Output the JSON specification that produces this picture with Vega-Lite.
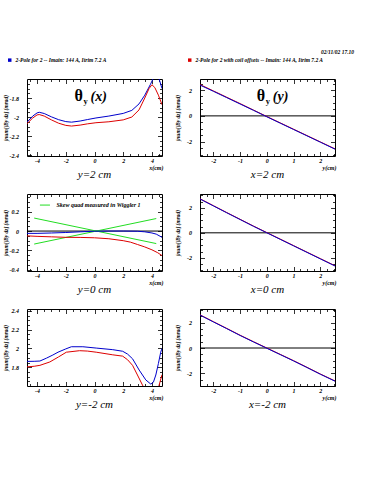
{
"$schema": "https://vega.github.io/schema/vega-lite/v6.json",
"padding": {"left": 2, "top": 49, "right": 0, "bottom": 0},
"background": "white",
"title": {"text": "02/11/02  17.10", "anchor": "start", "frame": "group", "dx": 294, "offset": 2, "font": "Liberation Serif", "fontSize": 5.5, "fontStyle": "italic", "fontWeight": "bold", "color": "black"},
"datasets": {
"p1": [
{"s":"A","x":-4.7,"v":-2.054},{"s":"A","x":-4.3,"v":-1.99},{"s":"A","x":-4.0,"v":-1.957},{"s":"A","x":-3.85,"v":-1.95},{"s":"A","x":-3.5,"v":-1.963},{"s":"A","x":-3.0,"v":-1.998},{"s":"A","x":-2.5,"v":-2.028},{"s":"A","x":-2.0,"v":-2.048},{"s":"A","x":-1.6,"v":-2.054},{"s":"A","x":-1.0,"v":-2.042},{"s":"A","x":-0.5,"v":-2.027},{"s":"A","x":0.1,"v":-2.01},{"s":"A","x":1.0,"v":-1.99},{"s":"A","x":2.0,"v":-1.962},{"s":"A","x":2.6,"v":-1.93},{"s":"A","x":3.1,"v":-1.862},{"s":"A","x":3.5,"v":-1.77},{"s":"A","x":3.9,"v":-1.655},{"s":"A","x":4.1,"v":-1.59},{"s":"A","x":4.3,"v":-1.56},{"s":"A","x":4.5,"v":-1.6},{"s":"A","x":4.7,"v":-1.7},
{"s":"B","x":-4.7,"v":-2.07},{"s":"B","x":-4.3,"v":-2.01},{"s":"B","x":-4.0,"v":-1.978},{"s":"B","x":-3.85,"v":-1.974},{"s":"B","x":-3.5,"v":-1.99},{"s":"B","x":-3.0,"v":-2.03},{"s":"B","x":-2.5,"v":-2.065},{"s":"B","x":-2.0,"v":-2.088},{"s":"B","x":-1.6,"v":-2.095},{"s":"B","x":-1.0,"v":-2.085},{"s":"B","x":-0.5,"v":-2.072},{"s":"B","x":0.1,"v":-2.06},{"s":"B","x":1.0,"v":-2.05},{"s":"B","x":2.0,"v":-2.03},{"s":"B","x":2.6,"v":-2.0},{"s":"B","x":3.1,"v":-1.925},{"s":"B","x":3.5,"v":-1.8},{"s":"B","x":3.8,"v":-1.7},{"s":"B","x":4.0,"v":-1.66},{"s":"B","x":4.2,"v":-1.69},{"s":"B","x":4.45,"v":-1.77},{"s":"B","x":4.7,"v":-1.87}
],
"p2": [
{"s":"B","x":-2.5,"v":2.42},{"s":"B","x":-2,"v":1.93},{"s":"B","x":-1.5,"v":1.44},{"s":"B","x":-1,"v":0.95},{"s":"B","x":-0.5,"v":0.45},{"s":"B","x":0,"v":-0.05},{"s":"B","x":0.5,"v":-0.54},{"s":"B","x":1,"v":-1.03},{"s":"B","x":1.5,"v":-1.52},{"s":"B","x":2,"v":-2.01},{"s":"B","x":2.55,"v":-2.55},
{"s":"A","x":-2.5,"v":2.38},{"s":"A","x":-2,"v":1.9},{"s":"A","x":-1.5,"v":1.41},{"s":"A","x":-1,"v":0.92},{"s":"A","x":-0.5,"v":0.43},{"s":"A","x":0,"v":-0.07},{"s":"A","x":0.5,"v":-0.56},{"s":"A","x":1,"v":-1.05},{"s":"A","x":1.5,"v":-1.54},{"s":"A","x":2,"v":-2.03},{"s":"A","x":2.55,"v":-2.57}
],
"p3": [
{"s":"A","x":-4.7,"v":-0.024},{"s":"A","x":-4,"v":-0.024},{"s":"A","x":-3,"v":-0.02},{"s":"A","x":-2,"v":-0.015},{"s":"A","x":-1,"v":-0.008},{"s":"A","x":0,"v":-0.002},{"s":"A","x":1,"v":0},{"s":"A","x":2,"v":0},{"s":"A","x":3,"v":-0.002},{"s":"A","x":3.5,"v":-0.008},{"s":"A","x":4,"v":-0.02},{"s":"A","x":4.3,"v":-0.032},{"s":"A","x":4.7,"v":-0.065},
{"s":"B","x":-4.7,"v":-0.05},{"s":"B","x":-4,"v":-0.055},{"s":"B","x":-3,"v":-0.06},{"s":"B","x":-2,"v":-0.065},{"s":"B","x":-1,"v":-0.066},{"s":"B","x":0,"v":-0.07},{"s":"B","x":1,"v":-0.08},{"s":"B","x":2,"v":-0.1},{"s":"B","x":2.5,"v":-0.115},{"s":"B","x":3,"v":-0.14},{"s":"B","x":3.5,"v":-0.165},{"s":"B","x":4,"v":-0.195},{"s":"B","x":4.4,"v":-0.225},{"s":"B","x":4.7,"v":-0.255}
],
"g3": [
{"k":1,"x":-4.2,"v":0.135},{"k":1,"x":4.3,"v":-0.13},{"k":2,"x":-4.2,"v":-0.135},{"k":2,"x":4.3,"v":0.13}
],
"p4": [
{"s":"B","x":-2.5,"v":2.72},{"s":"B","x":-2,"v":2.17},{"s":"B","x":-1.5,"v":1.62},{"s":"B","x":-1,"v":1.08},{"s":"B","x":-0.5,"v":0.54},{"s":"B","x":0,"v":0.02},{"s":"B","x":0.5,"v":-0.5},{"s":"B","x":1,"v":-1.02},{"s":"B","x":1.5,"v":-1.54},{"s":"B","x":2,"v":-2.06},{"s":"B","x":2.55,"v":-2.63},
{"s":"A","x":-2.5,"v":2.7},{"s":"A","x":-2,"v":2.15},{"s":"A","x":-1.5,"v":1.6},{"s":"A","x":-1,"v":1.06},{"s":"A","x":-0.5,"v":0.52},{"s":"A","x":0,"v":0},{"s":"A","x":0.5,"v":-0.52},{"s":"A","x":1,"v":-1.04},{"s":"A","x":1.5,"v":-1.56},{"s":"A","x":2,"v":-2.08},{"s":"A","x":2.55,"v":-2.65}
],
"p5": [
{"s":"A","x":-4.7,"v":1.862},{"s":"A","x":-4.2,"v":1.863},{"s":"A","x":-3.8,"v":1.866},{"s":"A","x":-3.34,"v":1.897},{"s":"A","x":-2.9,"v":1.93},{"s":"A","x":-2.54,"v":1.96},{"s":"A","x":-2.0,"v":1.995},{"s":"A","x":-1.61,"v":2.018},{"s":"A","x":-0.81,"v":2.018},{"s":"A","x":0.12,"v":2.004},{"s":"A","x":1.27,"v":1.987},{"s":"A","x":1.96,"v":1.97},{"s":"A","x":2.3,"v":1.94},{"s":"A","x":2.65,"v":1.89},{"s":"A","x":3.11,"v":1.77},{"s":"A","x":3.57,"v":1.665},{"s":"A","x":3.92,"v":1.62},{"s":"A","x":4.1,"v":1.64},{"s":"A","x":4.27,"v":1.717},{"s":"A","x":4.45,"v":1.84},{"s":"A","x":4.61,"v":1.96},{"s":"A","x":4.7,"v":2.0},
{"s":"B","x":-4.7,"v":1.804},{"s":"B","x":-4.2,"v":1.81},{"s":"B","x":-3.8,"v":1.82},{"s":"B","x":-3.11,"v":1.856},{"s":"B","x":-2.5,"v":1.91},{"s":"B","x":-1.96,"v":1.96},{"s":"B","x":-1.04,"v":1.976},{"s":"B","x":-0.5,"v":1.972},{"s":"B","x":0.12,"v":1.96},{"s":"B","x":1.27,"v":1.932},{"s":"B","x":1.96,"v":1.918},{"s":"B","x":2.3,"v":1.88},{"s":"B","x":2.65,"v":1.82},{"s":"B","x":2.99,"v":1.717},{"s":"B","x":3.34,"v":1.61},{"s":"B","x":3.6,"v":1.54},{"s":"B","x":4.0,"v":1.47},{"s":"B","x":4.3,"v":1.5},{"s":"B","x":4.5,"v":1.61},{"s":"B","x":4.7,"v":1.72}
],
"p6": [
{"s":"B","x":-2.5,"v":2.62},{"s":"B","x":-2,"v":2.08},{"s":"B","x":-1.5,"v":1.55},{"s":"B","x":-1,"v":1.01},{"s":"B","x":-0.5,"v":0.5},{"s":"B","x":0,"v":0},{"s":"B","x":0.5,"v":-0.5},{"s":"B","x":1,"v":-1.0},{"s":"B","x":1.5,"v":-1.52},{"s":"B","x":2,"v":-2.05},{"s":"B","x":2.55,"v":-2.6},
{"s":"A","x":-2.5,"v":2.6},{"s":"A","x":-2,"v":2.06},{"s":"A","x":-1.5,"v":1.53},{"s":"A","x":-1,"v":0.99},{"s":"A","x":-0.5,"v":0.48},{"s":"A","x":0,"v":-0.02},{"s":"A","x":0.5,"v":-0.52},{"s":"A","x":1,"v":-1.02},{"s":"A","x":1.5,"v":-1.54},{"s":"A","x":2,"v":-2.07},{"s":"A","x":2.55,"v":-2.62}
]
},
"columns": 2,
"spacing": {"row": 38, "column": 38},
"bounds": "flush",
"concat": [
{"width": 135, "height": 77, "data": {"name": "p1"},
 "title": {"text": "y=2 cm", "orient": "bottom", "anchor": "middle", "frame": "group", "offset": -1, "font": "Liberation Serif", "fontSize": 11, "fontStyle": "italic", "fontWeight": "normal", "color": "black"},
 "resolve": {"axis": {"x": "independent", "y": "independent"}},
 "layer": [
  {"mark": {"type": "line", "clip": true, "strokeWidth": 1},
   "encoding": {
    "x": {"field": "x", "type": "quantitative", "scale": {"domain": [-4.7, 4.7], "nice": false, "zero": false},
      "axis": {"orient": "bottom", "values": [-4.5,-4,-3.5,-3,-2.5,-2,-1.5,-1,-0.5,0,0.5,1,1.5,2,2.5,3,3.5,4,4.5], "tickSize": {"condition": {"test": "datum.value % 2 == 0", "value": -4.5}, "value": -2.5}, "labelExpr": "datum.value % 2 == 0 ? (datum.value < 0 ? '-' : '') + format(abs(datum.value), '~g') : ''", "labelPadding": 5.5, "title": "x(cm)", "titleX": 136, "titleY": 8, "titleAlign": "right", "titleBaseline": "top", "titleFontSize": 6}},
    "y": {"field": "v", "type": "quantitative", "scale": {"domain": [-2.41, -1.6], "nice": false, "zero": false},
      "axis": {"orient": "left", "values": [-2.4,-2.35,-2.3,-2.25,-2.2,-2.15,-2.1,-2.05,-2,-1.95,-1.9,-1.85,-1.8,-1.75,-1.7,-1.65], "tickSize": {"condition": {"test": "abs(datum.value*5 - round(datum.value*5)) < 0.001", "value": -4.5}, "value": -2.5}, "labelExpr": "abs(datum.value*5 - round(datum.value*5)) < 0.001 ? (datum.value < 0 ? '-' : '') + format(abs(datum.value), '.1~f') : ''", "labelPadding": 13, "title": "∫num[∫By dz] (mrad)", "titleX": -22, "titleY": 38.5, "titleAngle": -90, "titleBaseline": "middle", "titleAlign": "center"}},
    "color": {"field": "s", "type": "nominal", "title": null, "scale": {"domain": ["A", "B"], "range": ["#0000cc", "#dd0000"]},
      "legend": {"labelExpr": "datum.value == 'A' ? '2-Pole for 2  --  Imain: 144 A, Itrim 7.2 A' : '2-Pole for 2 with coil offsets  --  Imain: 144 A, Itrim 7.2 A'", "encode": {"symbols": {"update": {"fill": {"scale": "color", "field": "value"}, "stroke": {"value": "transparent"}}}}}}
   }},
  {"mark": {"type": "point", "opacity": 0, "clip": true},
   "encoding": {
    "x": {"field": "x", "type": "quantitative", "axis": {"orient": "top", "values": [-4.5,-4,-3.5,-3,-2.5,-2,-1.5,-1,-0.5,0,0.5,1,1.5,2,2.5,3,3.5,4,4.5], "tickSize": {"condition": {"test": "datum.value % 2 == 0", "value": -4.5}, "value": -2.5}, "labels": false, "title": null}},
    "y": {"field": "v", "type": "quantitative", "axis": {"orient": "right", "values": [-2.4,-2.35,-2.3,-2.25,-2.2,-2.15,-2.1,-2.05,-2,-1.95,-1.9,-1.85,-1.8,-1.75,-1.7,-1.65], "tickSize": {"condition": {"test": "abs(datum.value*5 - round(datum.value*5)) < 0.001", "value": -4.5}, "value": -2.5}, "labels": false, "title": null}}
   }},
  {"data": {"values": [{}]}, "mark": {"type": "text", "text": "θ", "font": "Liberation Serif", "fontSize": 16, "fontWeight": "bold", "align": "left", "baseline": "alphabetic", "dx": -20},
   "encoding": {"x": {"datum": 0, "type": "quantitative", "axis": null}, "y": {"datum": -1.83, "type": "quantitative", "axis": null}}},
  {"data": {"values": [{}]}, "mark": {"type": "text", "text": "y", "font": "Liberation Serif", "fontSize": 8.5, "fontWeight": "bold", "align": "left", "baseline": "alphabetic", "dx": -11, "dy": 3},
   "encoding": {"x": {"datum": 0, "type": "quantitative", "axis": null}, "y": {"datum": -1.83, "type": "quantitative", "axis": null}}},
  {"data": {"values": [{}]}, "mark": {"type": "text", "text": "(x)", "font": "Liberation Serif", "fontSize": 14, "fontStyle": "italic", "fontWeight": "bold", "align": "left", "baseline": "alphabetic", "dx": -4},
   "encoding": {"x": {"datum": 0, "type": "quantitative", "axis": null}, "y": {"datum": -1.83, "type": "quantitative", "axis": null}}}
 ]},
{"width": 135, "height": 77, "data": {"name": "p2"},
 "title": {"text": "x=2 cm", "orient": "bottom", "anchor": "middle", "frame": "group", "offset": -1, "font": "Liberation Serif", "fontSize": 11, "fontStyle": "italic", "fontWeight": "normal", "color": "black"},
 "resolve": {"axis": {"x": "independent", "y": "independent"}},
 "layer": [
  {"data": {"values": [{}]}, "mark": {"type": "rule", "color": "black", "strokeWidth": 1},
   "encoding": {"y": {"datum": 0, "type": "quantitative", "axis": null}}},
  {"mark": {"type": "line", "clip": true, "strokeWidth": 1},
   "encoding": {
    "x": {"field": "x", "type": "quantitative", "scale": {"domain": [-2.5, 2.55], "nice": false, "zero": false},
      "axis": {"orient": "bottom", "values": [-2.5,-2.25,-2,-1.75,-1.5,-1.25,-1,-0.75,-0.5,-0.25,0,0.25,0.5,0.75,1,1.25,1.5,1.75,2,2.25,2.5], "tickSize": {"condition": {"test": "datum.value % 1 == 0", "value": -4.5}, "value": -2.5}, "labelExpr": "datum.value % 1 == 0 ? (datum.value < 0 ? '-' : '') + format(abs(datum.value), '~g') : ''", "labelPadding": 5.5, "title": "y(cm)", "titleX": 136, "titleY": 8, "titleAlign": "right", "titleBaseline": "top", "titleFontSize": 6}},
    "y": {"field": "v", "type": "quantitative", "scale": {"domain": [-3.1, 2.85], "nice": false, "zero": false},
      "axis": {"orient": "left", "values": [-3,-2.5,-2,-1.5,-1,-0.5,0,0.5,1,1.5,2,2.5], "tickSize": {"condition": {"test": "datum.value % 2 == 0", "value": -4.5}, "value": -2.5}, "labelExpr": "datum.value % 2 == 0 ? (datum.value < 0 ? '-' : '') + format(abs(datum.value), '~g') : ''", "labelPadding": 13, "title": "∫num[∫By dz] (mrad)", "titleX": -23, "titleY": 38.5, "titleAngle": -90, "titleBaseline": "middle", "titleAlign": "center"}},
    "color": {"field": "s", "type": "nominal", "title": null, "scale": {"domain": ["A", "B"], "range": ["#0000cc", "#dd0000"]}}
   }},
  {"mark": {"type": "point", "opacity": 0, "clip": true},
   "encoding": {
    "x": {"field": "x", "type": "quantitative", "axis": {"orient": "top", "values": [-2.5,-2.25,-2,-1.75,-1.5,-1.25,-1,-0.75,-0.5,-0.25,0,0.25,0.5,0.75,1,1.25,1.5,1.75,2,2.25,2.5], "tickSize": {"condition": {"test": "datum.value % 1 == 0", "value": -4.5}, "value": -2.5}, "labels": false, "title": null}},
    "y": {"field": "v", "type": "quantitative", "axis": {"orient": "right", "values": [-3,-2.5,-2,-1.5,-1,-0.5,0,0.5,1,1.5,2,2.5], "tickSize": {"condition": {"test": "datum.value % 2 == 0", "value": -4.5}, "value": -2.5}, "labels": false, "title": null}}
   }},
  {"data": {"values": [{}]}, "mark": {"type": "text", "text": "θ", "font": "Liberation Serif", "fontSize": 16, "fontWeight": "bold", "align": "left", "baseline": "alphabetic", "dx": -10},
   "encoding": {"x": {"datum": 0, "type": "quantitative", "axis": null}, "y": {"datum": 1.15, "type": "quantitative", "axis": null}}},
  {"data": {"values": [{}]}, "mark": {"type": "text", "text": "y", "font": "Liberation Serif", "fontSize": 8.5, "fontWeight": "bold", "align": "left", "baseline": "alphabetic", "dx": -1, "dy": 3},
   "encoding": {"x": {"datum": 0, "type": "quantitative", "axis": null}, "y": {"datum": 1.15, "type": "quantitative", "axis": null}}},
  {"data": {"values": [{}]}, "mark": {"type": "text", "text": "(y)", "font": "Liberation Serif", "fontSize": 14, "fontStyle": "italic", "fontWeight": "bold", "align": "left", "baseline": "alphabetic", "dx": 6},
   "encoding": {"x": {"datum": 0, "type": "quantitative", "axis": null}, "y": {"datum": 1.15, "type": "quantitative", "axis": null}}}
 ]},
{"width": 135, "height": 77, "data": {"name": "p3"},
 "title": {"text": "y=0 cm", "orient": "bottom", "anchor": "middle", "frame": "group", "offset": -1, "font": "Liberation Serif", "fontSize": 11, "fontStyle": "italic", "fontWeight": "normal", "color": "black"},
 "resolve": {"axis": {"x": "independent", "y": "independent"}},
 "layer": [
  {"data": {"values": [{}]}, "mark": {"type": "rule", "color": "black", "strokeWidth": 1},
   "encoding": {"y": {"datum": 0, "type": "quantitative", "axis": null}}},
  {"data": {"name": "g3"}, "mark": {"type": "line", "clip": true, "strokeWidth": 1, "color": "#22dd22"},
   "encoding": {"x": {"field": "x", "type": "quantitative", "axis": null}, "y": {"field": "v", "type": "quantitative", "axis": null}, "detail": {"field": "k"}}},
  {"mark": {"type": "line", "clip": true, "strokeWidth": 1},
   "encoding": {
    "x": {"field": "x", "type": "quantitative", "scale": {"domain": [-4.7, 4.7], "nice": false, "zero": false},
      "axis": {"orient": "bottom", "values": [-4.5,-4,-3.5,-3,-2.5,-2,-1.5,-1,-0.5,0,0.5,1,1.5,2,2.5,3,3.5,4,4.5], "tickSize": {"condition": {"test": "datum.value % 2 == 0", "value": -4.5}, "value": -2.5}, "labelExpr": "datum.value % 2 == 0 ? (datum.value < 0 ? '-' : '') + format(abs(datum.value), '~g') : ''", "labelPadding": 5.5, "title": "x(cm)", "titleX": 136, "titleY": 8, "titleAlign": "right", "titleBaseline": "top", "titleFontSize": 6}},
    "y": {"field": "v", "type": "quantitative", "scale": {"domain": [-0.415, 0.385], "nice": false, "zero": false},
      "axis": {"orient": "left", "values": [-0.4,-0.35,-0.3,-0.25,-0.2,-0.15,-0.1,-0.05,0,0.05,0.1,0.15,0.2,0.25,0.3,0.35], "tickSize": {"condition": {"test": "abs(datum.value*5 - round(datum.value*5)) < 0.001", "value": -4.5}, "value": -2.5}, "labelExpr": "abs(datum.value*5 - round(datum.value*5)) < 0.001 ? (datum.value < 0 ? '-' : '') + format(abs(datum.value), '.1~f') : ''", "labelPadding": 13, "title": "∫num[∫By dz] (mrad)", "titleX": -22, "titleY": 38.5, "titleAngle": -90, "titleBaseline": "middle", "titleAlign": "center"}},
    "color": {"field": "s", "type": "nominal", "title": null, "scale": {"domain": ["A", "B"], "range": ["#0000cc", "#dd0000"]}}
   }},
  {"mark": {"type": "point", "opacity": 0, "clip": true},
   "encoding": {
    "x": {"field": "x", "type": "quantitative", "axis": {"orient": "top", "values": [-4.5,-4,-3.5,-3,-2.5,-2,-1.5,-1,-0.5,0,0.5,1,1.5,2,2.5,3,3.5,4,4.5], "tickSize": {"condition": {"test": "datum.value % 2 == 0", "value": -4.5}, "value": -2.5}, "labels": false, "title": null}},
    "y": {"field": "v", "type": "quantitative", "axis": {"orient": "right", "values": [-0.4,-0.35,-0.3,-0.25,-0.2,-0.15,-0.1,-0.05,0,0.05,0.1,0.15,0.2,0.25,0.3,0.35], "tickSize": {"condition": {"test": "abs(datum.value*5 - round(datum.value*5)) < 0.001", "value": -4.5}, "value": -2.5}, "labels": false, "title": null}}
   }},
  {"data": {"values": [{}]}, "mark": {"type": "rule", "color": "#22dd22", "strokeWidth": 1},
   "encoding": {"x": {"datum": -3.8, "type": "quantitative", "axis": null}, "x2": {"datum": -3.1}, "y": {"datum": 0.27, "type": "quantitative", "axis": null}}},
  {"data": {"values": [{}]}, "mark": {"type": "text", "text": "Skew quad measured in Wiggler 1", "font": "Liberation Serif", "fontSize": 6, "fontStyle": "italic", "fontWeight": "bold", "align": "left", "baseline": "middle"},
   "encoding": {"x": {"datum": -2.65, "type": "quantitative", "axis": null}, "y": {"datum": 0.27, "type": "quantitative", "axis": null}}}
 ]},
{"width": 135, "height": 77, "data": {"name": "p4"},
 "title": {"text": "x=0 cm", "orient": "bottom", "anchor": "middle", "frame": "group", "offset": -1, "font": "Liberation Serif", "fontSize": 11, "fontStyle": "italic", "fontWeight": "normal", "color": "black"},
 "resolve": {"axis": {"x": "independent", "y": "independent"}},
 "layer": [
  {"data": {"values": [{}]}, "mark": {"type": "rule", "color": "black", "strokeWidth": 1},
   "encoding": {"y": {"datum": 0, "type": "quantitative", "axis": null}}},
  {"mark": {"type": "line", "clip": true, "strokeWidth": 1},
   "encoding": {
    "x": {"field": "x", "type": "quantitative", "scale": {"domain": [-2.5, 2.55], "nice": false, "zero": false},
      "axis": {"orient": "bottom", "values": [-2.5,-2.25,-2,-1.75,-1.5,-1.25,-1,-0.75,-0.5,-0.25,0,0.25,0.5,0.75,1,1.25,1.5,1.75,2,2.25,2.5], "tickSize": {"condition": {"test": "datum.value % 1 == 0", "value": -4.5}, "value": -2.5}, "labelExpr": "datum.value % 1 == 0 ? (datum.value < 0 ? '-' : '') + format(abs(datum.value), '~g') : ''", "labelPadding": 5.5, "title": "y(cm)", "titleX": 136, "titleY": 8, "titleAlign": "right", "titleBaseline": "top", "titleFontSize": 6}},
    "y": {"field": "v", "type": "quantitative", "scale": {"domain": [-3.05, 3.1], "nice": false, "zero": false},
      "axis": {"orient": "left", "values": [-3,-2.5,-2,-1.5,-1,-0.5,0,0.5,1,1.5,2,2.5,3], "tickSize": {"condition": {"test": "datum.value % 2 == 0", "value": -4.5}, "value": -2.5}, "labelExpr": "datum.value % 2 == 0 ? (datum.value < 0 ? '-' : '') + format(abs(datum.value), '~g') : ''", "labelPadding": 13, "title": "∫num[∫By dz] (mrad)", "titleX": -23, "titleY": 38.5, "titleAngle": -90, "titleBaseline": "middle", "titleAlign": "center"}},
    "color": {"field": "s", "type": "nominal", "title": null, "scale": {"domain": ["A", "B"], "range": ["#0000cc", "#dd0000"]}}
   }},
  {"mark": {"type": "point", "opacity": 0, "clip": true},
   "encoding": {
    "x": {"field": "x", "type": "quantitative", "axis": {"orient": "top", "values": [-2.5,-2.25,-2,-1.75,-1.5,-1.25,-1,-0.75,-0.5,-0.25,0,0.25,0.5,0.75,1,1.25,1.5,1.75,2,2.25,2.5], "tickSize": {"condition": {"test": "datum.value % 1 == 0", "value": -4.5}, "value": -2.5}, "labels": false, "title": null}},
    "y": {"field": "v", "type": "quantitative", "axis": {"orient": "right", "values": [-3,-2.5,-2,-1.5,-1,-0.5,0,0.5,1,1.5,2,2.5,3], "tickSize": {"condition": {"test": "datum.value % 2 == 0", "value": -4.5}, "value": -2.5}, "labels": false, "title": null}}
   }}
 ]},
{"width": 135, "height": 77, "data": {"name": "p5"},
 "title": {"text": "y=-2 cm", "orient": "bottom", "anchor": "middle", "frame": "group", "offset": -1, "font": "Liberation Serif", "fontSize": 11, "fontStyle": "italic", "fontWeight": "normal", "color": "black"},
 "resolve": {"axis": {"x": "independent", "y": "independent"}},
 "layer": [
  {"mark": {"type": "line", "clip": true, "strokeWidth": 1},
   "encoding": {
    "x": {"field": "x", "type": "quantitative", "scale": {"domain": [-4.7, 4.7], "nice": false, "zero": false},
      "axis": {"orient": "bottom", "values": [-4.5,-4,-3.5,-3,-2.5,-2,-1.5,-1,-0.5,0,0.5,1,1.5,2,2.5,3,3.5,4,4.5], "tickSize": {"condition": {"test": "datum.value % 2 == 0", "value": -4.5}, "value": -2.5}, "labelExpr": "datum.value % 2 == 0 ? (datum.value < 0 ? '-' : '') + format(abs(datum.value), '~g') : ''", "labelPadding": 5.5, "title": "x(cm)", "titleX": 136, "titleY": 8, "titleAlign": "right", "titleBaseline": "top", "titleFontSize": 6}},
    "y": {"field": "v", "type": "quantitative", "scale": {"domain": [1.6, 2.42], "nice": false, "zero": false},
      "axis": {"orient": "left", "values": [1.65,1.7,1.75,1.8,1.85,1.9,1.95,2,2.05,2.1,2.15,2.2,2.25,2.3,2.35,2.4], "tickSize": {"condition": {"test": "abs(datum.value*5 - round(datum.value*5)) < 0.001", "value": -4.5}, "value": -2.5}, "labelExpr": "abs(datum.value*5 - round(datum.value*5)) < 0.001 ? (datum.value < 0 ? '-' : '') + format(abs(datum.value), '.1~f') : ''", "labelPadding": 13, "title": "∫num[∫By dz] (mrad)", "titleX": -22, "titleY": 38.5, "titleAngle": -90, "titleBaseline": "middle", "titleAlign": "center"}},
    "color": {"field": "s", "type": "nominal", "title": null, "scale": {"domain": ["A", "B"], "range": ["#0000cc", "#dd0000"]}}
   }},
  {"mark": {"type": "point", "opacity": 0, "clip": true},
   "encoding": {
    "x": {"field": "x", "type": "quantitative", "axis": {"orient": "top", "values": [-4.5,-4,-3.5,-3,-2.5,-2,-1.5,-1,-0.5,0,0.5,1,1.5,2,2.5,3,3.5,4,4.5], "tickSize": {"condition": {"test": "datum.value % 2 == 0", "value": -4.5}, "value": -2.5}, "labels": false, "title": null}},
    "y": {"field": "v", "type": "quantitative", "axis": {"orient": "right", "values": [1.65,1.7,1.75,1.8,1.85,1.9,1.95,2,2.05,2.1,2.15,2.2,2.25,2.3,2.35,2.4], "tickSize": {"condition": {"test": "abs(datum.value*5 - round(datum.value*5)) < 0.001", "value": -4.5}, "value": -2.5}, "labels": false, "title": null}}
   }}
 ]},
{"width": 135, "height": 77, "data": {"name": "p6"},
 "title": {"text": "x=-2 cm", "orient": "bottom", "anchor": "middle", "frame": "group", "offset": -1, "font": "Liberation Serif", "fontSize": 11, "fontStyle": "italic", "fontWeight": "normal", "color": "black"},
 "resolve": {"axis": {"x": "independent", "y": "independent"}},
 "layer": [
  {"data": {"values": [{}]}, "mark": {"type": "rule", "color": "black", "strokeWidth": 1},
   "encoding": {"y": {"datum": 0, "type": "quantitative", "axis": null}}},
  {"mark": {"type": "line", "clip": true, "strokeWidth": 1},
   "encoding": {
    "x": {"field": "x", "type": "quantitative", "scale": {"domain": [-2.5, 2.55], "nice": false, "zero": false},
      "axis": {"orient": "bottom", "values": [-2.5,-2.25,-2,-1.75,-1.5,-1.25,-1,-0.75,-0.5,-0.25,0,0.25,0.5,0.75,1,1.25,1.5,1.75,2,2.25,2.5], "tickSize": {"condition": {"test": "datum.value % 1 == 0", "value": -4.5}, "value": -2.5}, "labelExpr": "datum.value % 1 == 0 ? (datum.value < 0 ? '-' : '') + format(abs(datum.value), '~g') : ''", "labelPadding": 5.5, "title": "y(cm)", "titleX": 136, "titleY": 8, "titleAlign": "right", "titleBaseline": "top", "titleFontSize": 6}},
    "y": {"field": "v", "type": "quantitative", "scale": {"domain": [-3.0, 3.08], "nice": false, "zero": false},
      "axis": {"orient": "left", "values": [-3,-2.5,-2,-1.5,-1,-0.5,0,0.5,1,1.5,2,2.5,3], "tickSize": {"condition": {"test": "datum.value % 2 == 0", "value": -4.5}, "value": -2.5}, "labelExpr": "datum.value % 2 == 0 ? (datum.value < 0 ? '-' : '') + format(abs(datum.value), '~g') : ''", "labelPadding": 13, "title": "∫num[∫By dz] (mrad)", "titleX": -23, "titleY": 38.5, "titleAngle": -90, "titleBaseline": "middle", "titleAlign": "center"}},
    "color": {"field": "s", "type": "nominal", "title": null, "scale": {"domain": ["A", "B"], "range": ["#0000cc", "#dd0000"]}}
   }},
  {"mark": {"type": "point", "opacity": 0, "clip": true},
   "encoding": {
    "x": {"field": "x", "type": "quantitative", "axis": {"orient": "top", "values": [-2.5,-2.25,-2,-1.75,-1.5,-1.25,-1,-0.75,-0.5,-0.25,0,0.25,0.5,0.75,1,1.25,1.5,1.75,2,2.25,2.5], "tickSize": {"condition": {"test": "datum.value % 1 == 0", "value": -4.5}, "value": -2.5}, "labels": false, "title": null}},
    "y": {"field": "v", "type": "quantitative", "axis": {"orient": "right", "values": [-3,-2.5,-2,-1.5,-1,-0.5,0,0.5,1,1.5,2,2.5,3], "tickSize": {"condition": {"test": "datum.value % 2 == 0", "value": -4.5}, "value": -2.5}, "labels": false, "title": null}}
   }}
 ]}
],
"config": {
 "view": {"stroke": "black", "strokeWidth": 1},
 "axis": {"domain": false, "grid": false, "labelOverlap": false, "labelFlush": false, "labelBound": false, "tickColor": "black", "tickWidth": 0.8, "labelColor": "black", "labelFont": "Liberation Serif", "labelFontSize": 6, "labelFontStyle": "italic", "labelFontWeight": "bold", "titleColor": "black", "titleFont": "Liberation Serif", "titleFontSize": 5.5, "titleFontStyle": "italic", "titleFontWeight": "bold"},
 "legend": {"orient": "none", "legendX": -20, "legendY": -22, "direction": "horizontal", "symbolType": "square", "symbolSize": 12, "symbolStrokeWidth": 0, "labelFont": "Liberation Serif", "labelFontSize": 5.5, "labelFontStyle": "italic", "labelFontWeight": "bold", "labelColor": "black", "labelOffset": 3, "columnPadding": 77, "labelLimit": 300, "padding": 0}
}
}
